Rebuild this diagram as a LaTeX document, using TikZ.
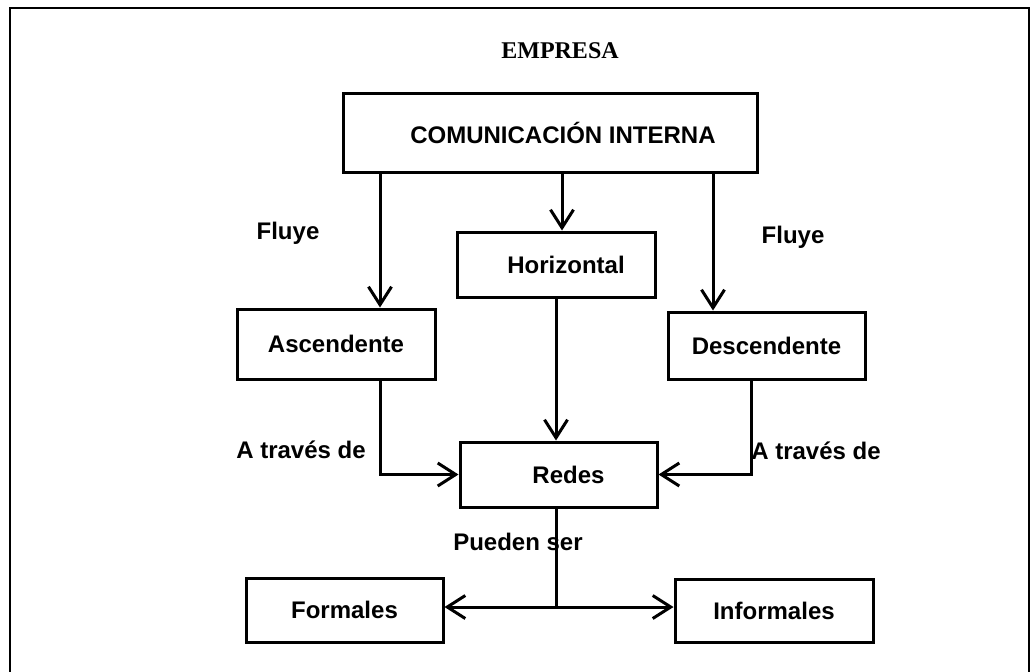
\documentclass[tikz,border=0pt,12pt]{standalone}
\usepackage{fontspec}
\setmainfont{Liberation Sans}
\newfontfamily\timesfont{Liberation Serif}
\usetikzlibrary{arrows.meta}

\begin{document}
\begin{tikzpicture}[x=0.5pt, y=-0.5pt, line width=1.5pt,
    >={Straight Barb[length=9pt,width=11.5pt]},
    box/.style={draw, rectangle, font=\bfseries, inner sep=0pt},
    txt/.style={font=\bfseries, inner sep=0pt}]
    \clip (0,0) rectangle (1032,671) ;
    \draw[line width=1.4pt] (10,8) rectangle (1029,700) ;
    \node[font=\timesfont\bfseries, inner sep=0pt] (empresa) at (560,51) {EMPRESA} ;
    \node[box, minimum width=207pt, minimum height=39.5pt] (com) at (550,132.5) {\hspace*{13pt}COMUNICACIÓN INTERNA} ;
    \node[box, minimum width=99pt, minimum height=35pt] (asc) at (336,344) {Ascendente} ;
    \node[box, minimum width=99pt, minimum height=32.5pt] (hor) at (556,264.5) {\hspace*{10pt}Horizontal} ;
    \node[box, minimum width=98.5pt, minimum height=33.5pt] (des) at (766.5,345.5) {Descendente} ;
    \node[box, minimum width=98.5pt, minimum height=32.5pt] (redes) at (558.5,474.5) {\hspace*{10pt}Redes} ;
    \node[box, minimum width=98.5pt, minimum height=32pt] (form) at (344.5,610) {Formales} ;
    \node[box, minimum width=99pt, minimum height=31.5pt] (inf) at (774,610.5) {Informales} ;
    \node[txt] (fluyeL) at (288,233) {Fluye} ;
    \node[txt] (fluyeR) at (793,237) {Fluye} ;
    \node[txt] (atravesL) at (301,450) {A través de} ;
    \node[txt] (atravesR) at (816,451) {A través de} ;
    \node[txt] (pueden) at (518,542) {Pueden ser} ;
    \coordinate (colL) at (380,0) ;
    \coordinate (colM) at (562,0) ;
    \coordinate (colR) at (713,0) ;
    \coordinate (colD) at (751,0) ;
    \coordinate (split) at (556,607) ;
    \draw[->] (com.south -| colL) -- (asc.north -| colL) ;
    \draw[->] (com.south -| colM) -- (hor.north -| colM) ;
    \draw[->] (com.south -| colR) -- (des.north -| colR) ;
    \draw[->] (hor.south) -- (hor.south |- redes.north) ;
    \draw[->] (asc.south -| colL) |- (redes.west) ;
    \draw[->] (des.south -| colD) |- (redes.east) ;
    \draw (redes.south -| split) -- (split) ;
    \draw[->] (split) -- (form.east |- split) ;
    \draw[->] (split) -- (inf.west |- split) ;
\end{tikzpicture}
\end{document}
